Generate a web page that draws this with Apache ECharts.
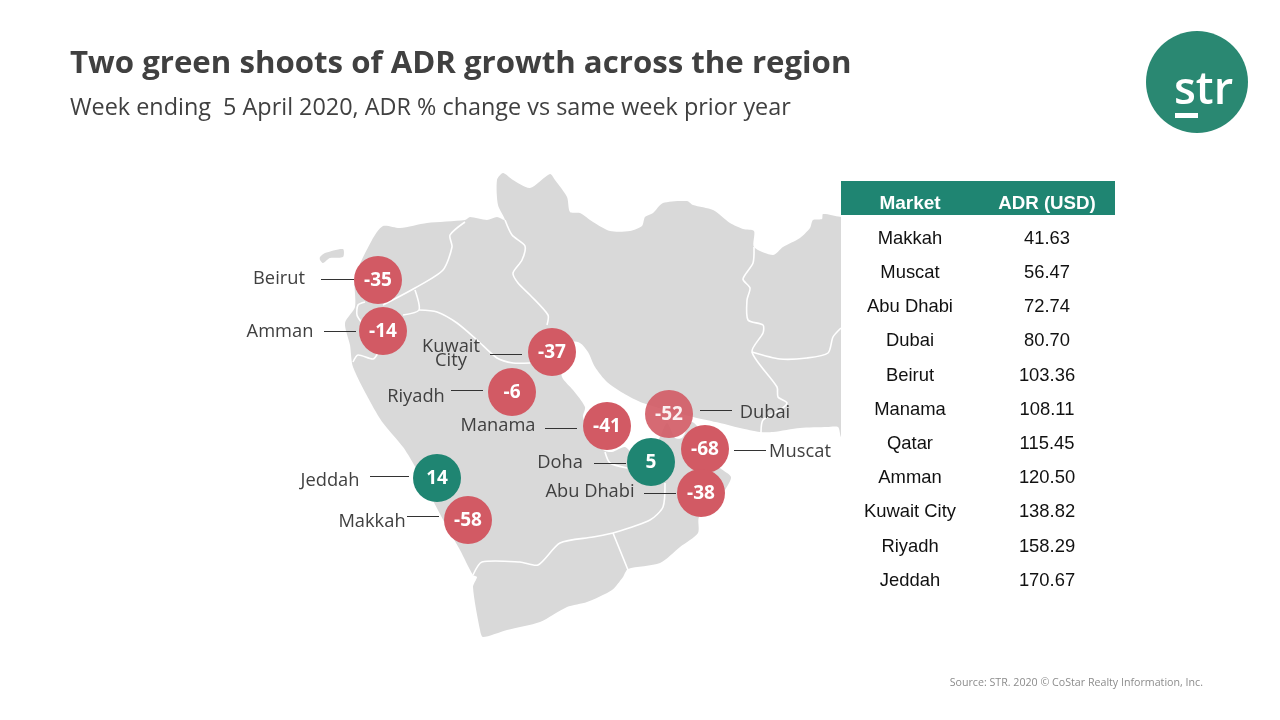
<!DOCTYPE html>
<html>
<head>
<meta charset="utf-8">
<style>html,body{margin:0;padding:0;background:#fff}#chart{width:1280px;height:720px}</style>
<script src="https://cdn.jsdelivr.net/npm/echarts@6/dist/echarts.min.js"></script>
</head>
<body>
<div id="chart"></div>
<script>
// table
var markets = ['Makkah','Muscat','Abu Dhabi','Dubai','Beirut','Manama','Qatar','Amman','Kuwait City','Riyadh','Jeddah'];
var adrUsd = ['41.63','56.47','72.74','80.70','103.36','108.11','115.45','120.50','138.82','158.29','170.67'];
var tableRowY = [239,273,307,341,376,410,444,478,512,547,581];

// bubbles, % change in ADR
var cities = ['Beirut','Amman','Kuwait\nCity','Riyadh','Manama','Dubai','Doha','Muscat','Abu Dhabi','Jeddah','Makkah'];
var adrChange = [-35,-14,-37,-6,-41,-52,5,-68,-38,14,-58];
var cityX = [378,383,552,512,607,669,651,705,701,437,468];
var cityY = [280,331,352,392,426,414,462,449,493,478,520];

// city name position and leader line
var labelX = [279,280,451,416,498,765,560,800,590,330,372];
var labelY = [279,332,354,397,426,413,463,452,492,481,522];
var leaderX1 = [321,324,490,451,545,700,594,734,644,370,407];
var leaderX2 = [354,356,522,483,577,732,626,766,676,409,439];
var leaderY = [279,331,354,390,428,410,463,450,493,476,516];

// map outlines
var landOutline = [[353,367],[350,345],[345,323],[355,307],[355,277],[372,240],[383,226],[400,228],[427,223],[465,220],[470,217],[487,220],[497,217],[505,220],
  [498,205],[497,180],[503,173],[513,180],[530,188],[550,174],[555,180],[567,197],[570,212],[580,213],[593,222],[610,231],[630,231],[642,226],[645,217],[653,213],[663,203],[687,201],[693,205],[713,210],[730,223],[743,229],[754,231],[754,247],[773,255],[783,247],[800,238],[810,228],[813,220],[822,219],[823,214],[840,216.8],[841,217],[841,218],
  [841,436],[841,437],[840.5,436],[838,427],[827,427],[800,428],[773,432],[760,432],[740,428],[720,423],[693,417],[643,403],[623,393],[607,382],[595,367],[588,352],[580,343],[570,342],
  [562,360],[562,377],[573,390],[585,407],[583,417],[590,432],[603,450],[612,452],[625,447],[635,455],[655,445],[660,437],[667,423],[675,438],[682,438],[692,422],
  [705,437],[716,462],[720,468],[731,477],[725,490],[712,510],[699,517],[698,533],[680,547],[660,563],[628,569],[623,577],[612,590],[587,602],[567,607],[540,622],[507,630],[483,637],[480,630],[473,587],[477,577],[473,575],
  [460,550],[447,527],[430,495],[413,463],[403,447],[383,423],[372,405]];
var cyprus = [[320,257],[325,253],[343,249],[343,257],[330,258],[323,263],[320,260]];

var borders = [
  [[505,220],[512,235],[525,246],[522,260],[513,273],[518,283],[530,295],[548,315],[547,325]],
  [[465,222],[450,235],[452,247],[443,270],[415,288],[383,305]],
  [[415,290],[419,310],[403,315]],
  [[419,310],[437,312],[457,323],[477,340],[497,358],[513,363],[530,363]],
  [[365,302],[358,305],[357,315],[362,323]],
  [[353,362],[358,355],[373,359],[378,353]],
  [[754,247],[753,263],[743,279],[750,288],[747,300],[748,320],[763,325],[763,333],[752,352],[777,387],[778,397],[787,403],[780,410],[763,420],[761,432]],
  [[752,352],[780,359],[807,358],[828,353],[833,337],[841,328]],
  [[605,452],[610,463],[627,468]],
  [[665,483],[663,507],[650,520],[613,533],[593,537],[560,543],[538,565],[520,562],[482,562],[473,575]],
  [[613,533],[628,570]]
];

var RED = '#d25a64';
var GREEN = '#1f8572';
var TEXT = '#404040';
var FONT = '"Open Sans"';

function points(api, list) {
    return list.map(function (p) { return api.coord(p); });
}

var tableText = [];
tableText.push({type:'rect', shape:{x:841,y:181,width:274,height:34}, style:{fill:GREEN}});
tableText.push({type:'text', style:{x:910,y:204,text:'Market',fill:'#fff',font:'bold 19px "Liberation Sans"',align:'center',verticalAlign:'middle'}});
tableText.push({type:'text', style:{x:1047,y:204,text:'ADR (USD)',fill:'#fff',font:'bold 18.7px "Liberation Sans"',align:'center',verticalAlign:'middle'}});
markets.forEach(function (m, i) {
    tableText.push({type:'text', style:{x:910,y:tableRowY[i],text:m,fill:'#111',font:'18.4px "Liberation Sans"',align:'center',verticalAlign:'middle'}});
    tableText.push({type:'text', style:{x:1047,y:tableRowY[i],text:adrUsd[i],fill:'#111',font:'18.4px "Liberation Sans"',align:'center',verticalAlign:'middle'}});
});

var option = {
    animation: false,
    backgroundColor: '#fff',
    textStyle: {fontFamily: FONT},
    title: [
        {text:'Two green shoots of ADR growth across the region', left:65, top:39, textStyle:{fontFamily:FONT,fontSize:31.2,fontWeight:'bold',color:TEXT,lineHeight:40}},
        {text:'Week ending  5 April 2020, ADR % change vs same week prior year', left:65, top:88, textStyle:{fontFamily:FONT,fontSize:23.4,fontWeight:'normal',color:TEXT,lineHeight:30}}
    ],
    grid: {left:0, right:0, top:0, bottom:0},
    xAxis: {type:'value', min:0, max:1280, show:false},
    yAxis: {type:'value', min:0, max:720, inverse:true, show:false},
    graphic: tableText.concat([
        {type:'circle', shape:{cx:1197,cy:82,r:51}, style:{fill:'#2a8872'}},
        {type:'text', style:{x:1203.5,y:91,text:'str',fill:'#fff',font:'600 45px "Open Sans"',align:'center',verticalAlign:'middle'}},
        {type:'rect', shape:{x:1175,y:113,width:23,height:5}, style:{fill:'#fff'}},
        {type:'text', style:{x:1203,y:683,text:'Source: STR. 2020 \u00a9 CoStar Realty Information, Inc.',fill:'#8c8c8c',font:'10.67px "Open Sans"',align:'right',verticalAlign:'middle'}}
    ]),
    series: [
        {
            type: 'custom', silent: true, z: 1, clip: false,
            data: [[0],[1]],
            renderItem: function (params, api) {
                var shape = params.dataIndex === 0 ? landOutline : cyprus;
                return {type:'polygon', shape:{points:points(api, shape), smooth:0.25}, style:{fill:'#d9d9d9'}};
            }
        },
        {
            type: 'custom', silent: true, z: 2, clip: false,
            data: borders.map(function (b, i) { return [i]; }),
            renderItem: function (params, api) {
                return {type:'polyline', shape:{points:points(api, borders[params.dataIndex]), smooth:0.25}, style:{fill:null,stroke:'#fff',lineWidth:1.6}};
            }
        },
        {
            type: 'custom', silent: true, z: 3, clip: false,
            data: leaderY.map(function (y, i) { return [i]; }),
            renderItem: function (params, api) {
                var i = params.dataIndex;
                var a = api.coord([leaderX1[i],leaderY[i]]);
                var b = api.coord([leaderX2[i],leaderY[i]]);
                return {type:'line', shape:{x1:a[0],y1:a[1]+0.5,x2:b[0],y2:b[1]+0.5}, style:{stroke:'#333',lineWidth:1}};
            }
        },
        {
            type: 'scatter', silent: true, z: 4, symbolSize: 0,
            itemStyle: {opacity: 1},
            data: cities.map(function (c, i) { return {value:[labelX[i],labelY[i]], name:c}; }),
            label: {show:true, position:'inside', formatter:'{b}', fontFamily:FONT, fontSize:18.3, lineHeight:14, color:TEXT}
        },
        {
            type: 'scatter', silent: true, z: 5, symbolSize: 48,
            data: adrChange.map(function (v, i) {
                return {value:[cityX[i],cityY[i],v], itemStyle:{color:v > 0 ? GREEN : RED, opacity:cities[i] === 'Dubai' ? 0.9 : 1}};
            }),
            label: {show:true, position:'inside', offset:[0,1], formatter:function (p) { return p.value[2]; }, fontFamily:FONT, fontSize:19, fontWeight:'bold', color:'#fff'}
        }
    ]
};

var myChart = echarts.init(document.getElementById('chart'));
myChart.setOption(option);
</script>
</body>
</html>
